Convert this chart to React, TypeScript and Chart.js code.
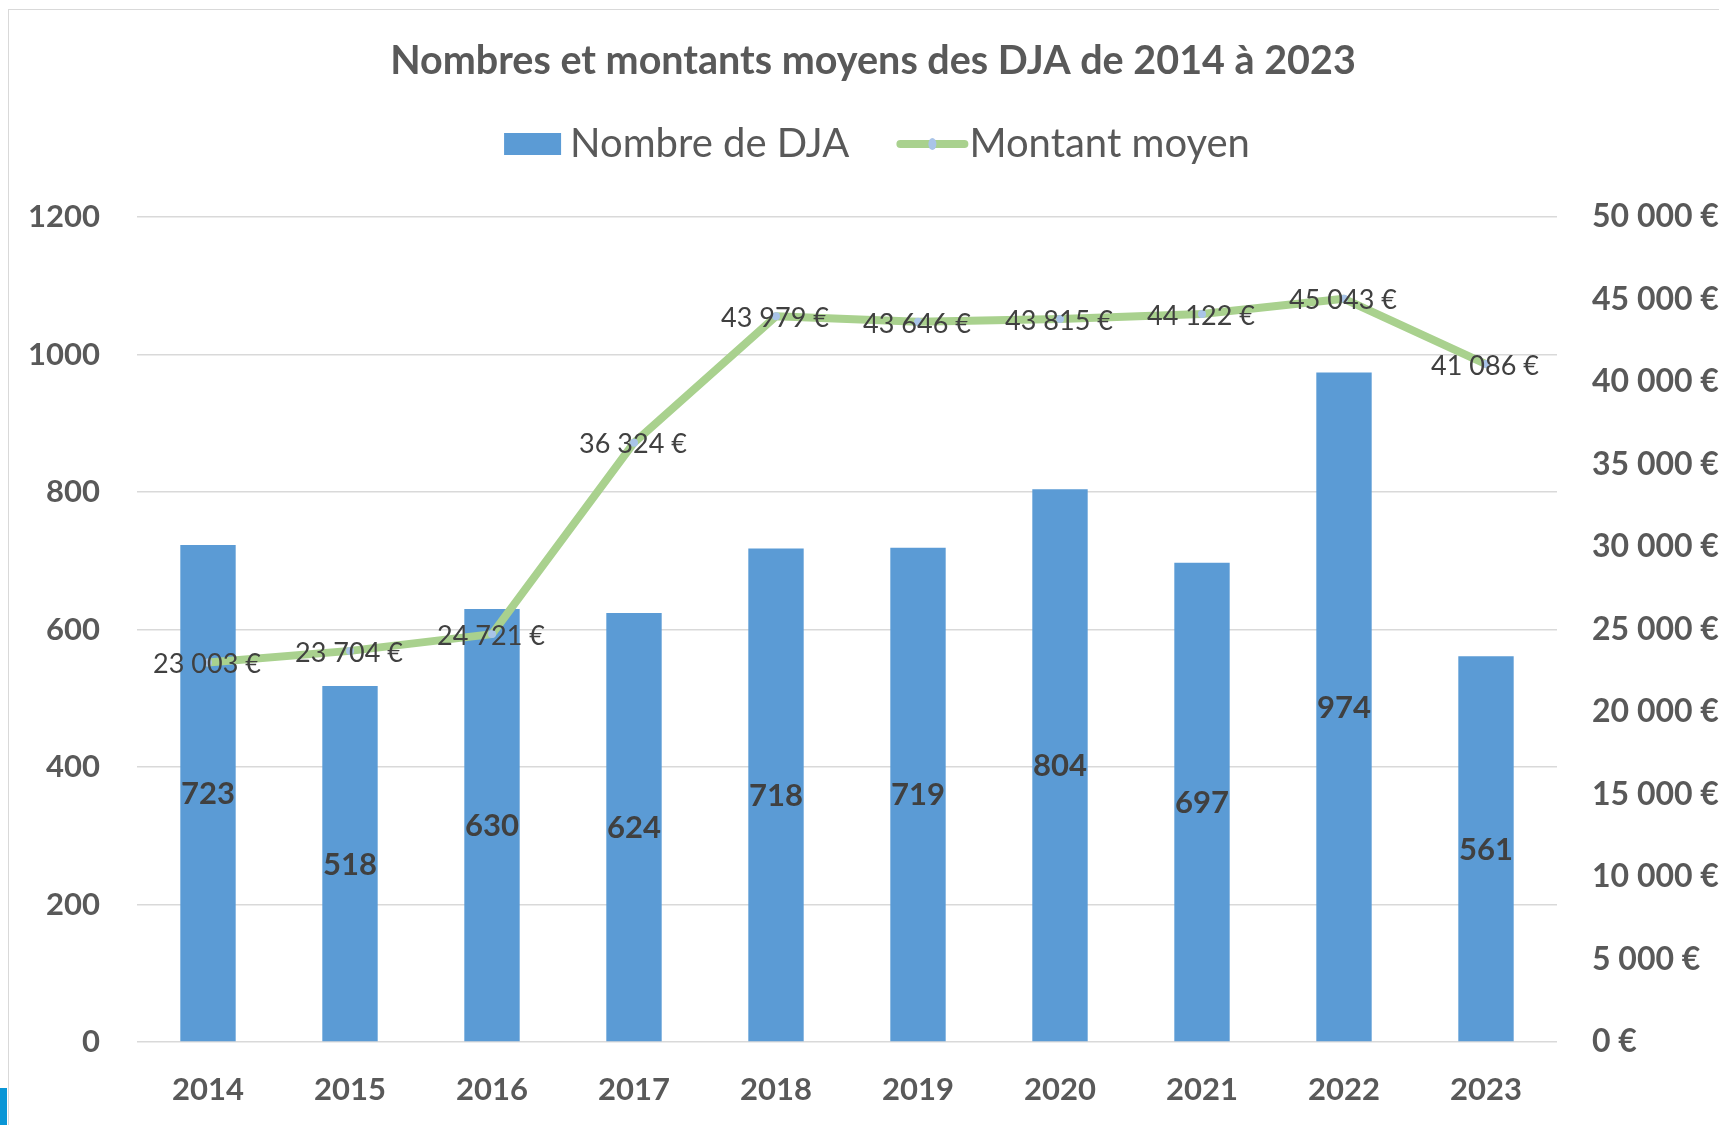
import React, { useEffect, useRef } from "react";
import { Chart, registerables } from "chart.js";

Chart.register(...registerables);

// ---- Data ----
const years = ["2014", "2015", "2016", "2017", "2018", "2019", "2020", "2021", "2022", "2023"];
const nombreDJA = [723, 518, 630, 624, 718, 719, 804, 697, 974, 561];
const montantMoyen = [23003, 23704, 24721, 36324, 43979, 43646, 43815, 44122, 45043, 41086];
const seriesNames = ["Nombre de DJA", "Montant moyen"];
const titleText = "Nombres et montants moyens des DJA de 2014 à 2023";
const leftAxisMax = 1200;
const leftAxisStep = 200;
const rightAxisMax = 50000;
const rightAxisStep = 5000;

// ---- Styles ----
const BAR_COLOR = "#5b9bd5";
const LINE_COLOR = "#a9d18e";
const MARKER_COLOR = "#a9c4e8";
const TEXT_COLOR = "#595959";
const LABEL_COLOR = "#404040";
const GRID_COLOR = "#d9d9d9";
const FONT = "Lato";

const CANVAS_W = 1728;
const CANVAS_H = 1115;

function groupDigits(n: number): string {
  return String(Math.round(n)).replace(/\B(?=(\d{3})+(?!\d))/g, " ");
}

const dataLabelsPlugin = {
  id: "dataLabels",
  afterDatasetsDraw(chart: any) {
    const ctx = chart.ctx as CanvasRenderingContext2D;
    ctx.save();
    ctx.textAlign = "center";
    ctx.textBaseline = "middle";
    ctx.fillStyle = LABEL_COLOR;

    const barMeta = chart.getDatasetMeta(0);
    ctx.font = `bold 31px ${FONT}`;
    barMeta.data.forEach((el: any, i: number) => {
      const p = el.getProps(["x", "y", "base"], true);
      ctx.fillText(String(nombreDJA[i]), p.x, (p.y + p.base) / 2 + 1);
    });

    const lineMeta = chart.getDatasetMeta(1);
    ctx.font = `27px ${FONT}`;
    lineMeta.data.forEach((el: any, i: number) => {
      const p = el.getProps(["x", "y"], true);
      ctx.fillText(groupDigits(montantMoyen[i]) + " €", p.x - 1, p.y + 2);
    });
    ctx.restore();
  },
};

const legendPlugin = {
  id: "customLegend",
  afterDraw(chart: any) {
    const ctx = chart.ctx as CanvasRenderingContext2D;
    ctx.save();
    ctx.font = `40px ${FONT}`;
    ctx.textBaseline = "middle";
    ctx.textAlign = "left";
    const w1 = ctx.measureText(seriesNames[0]).width;
    const w2 = ctx.measureText(seriesNames[1]).width;
    const boxW = 57;
    const boxH = 22;
    const gapText1 = 9;
    const gapItems = 47;
    const lineW = 72;
    const gapText2 = 1;
    const total = boxW + gapText1 + w1 + gapItems + lineW + gapText2 + w2;
    const cy = 133;
    let x = chart.width / 2 + 4 - total / 2;

    ctx.fillStyle = BAR_COLOR;
    ctx.fillRect(x, cy - boxH / 2 + 1, boxW, boxH);
    x += boxW + gapText1;
    ctx.fillStyle = TEXT_COLOR;
    ctx.fillText(seriesNames[0], x, cy + 1);
    x += w1 + gapItems;

    ctx.strokeStyle = LINE_COLOR;
    ctx.lineWidth = 8;
    ctx.lineCap = "round";
    ctx.beginPath();
    ctx.moveTo(x + 4, cy + 1);
    ctx.lineTo(x + lineW - 4, cy + 1);
    ctx.stroke();
    ctx.fillStyle = MARKER_COLOR;
    ctx.beginPath();
    ctx.ellipse(x + lineW / 2, cy + 1, 4, 6, 0, 0, Math.PI * 2);
    ctx.fill();
    x += lineW + gapText2;
    ctx.fillStyle = TEXT_COLOR;
    ctx.fillText(seriesNames[1], x, cy + 1);
    ctx.restore();
  },
};

export default function App() {
  const canvasRef = useRef<HTMLCanvasElement | null>(null);

  useEffect(() => {
    if (!canvasRef.current) return;
    const chart = new Chart(canvasRef.current, {
      type: "bar",
      data: {
        labels: years,
        datasets: [
          {
            type: "bar",
            label: seriesNames[0],
            data: nombreDJA,
            backgroundColor: BAR_COLOR,
            borderWidth: 0,
            barPercentage: 0.39,
            categoryPercentage: 1,
            yAxisID: "y",
            order: 1,
          },
          {
            type: "line",
            label: seriesNames[1],
            data: montantMoyen,
            borderColor: LINE_COLOR,
            backgroundColor: LINE_COLOR,
            borderWidth: 8,
            borderJoinStyle: "round",
            borderCapStyle: "round",
            pointRadius: 4,
            pointBackgroundColor: MARKER_COLOR,
            pointBorderWidth: 0,
            tension: 0,
            yAxisID: "y1",
            order: 0,
          },
        ] as any,
      },
      options: {
        responsive: false,
        animation: false,
        devicePixelRatio: 1,
        layout: { padding: { top: 0, left: 0, right: 0, bottom: 0 } },
        plugins: {
          legend: { display: false },
          tooltip: { enabled: false },
          title: {
            display: true,
            text: titleText,
            color: TEXT_COLOR,
            font: { family: FONT, size: 39.5, weight: "bold", lineHeight: 1.2 },
            padding: { top: 28, bottom: 131.6 },
          },
        },
        scales: {
          x: {
            grid: { display: false, drawTicks: false },
            border: { display: false },
            ticks: {
              color: TEXT_COLOR,
              font: { family: FONT, size: 31, weight: "bold", lineHeight: 1.2 },
              padding: 29,
              maxRotation: 0,
              autoSkip: false,
            },
            afterFit: (scale: any) => {
              scale.height = 83;
            },
          },
          y: {
            position: "left",
            min: 0,
            max: leftAxisMax,
            grid: { color: GRID_COLOR, lineWidth: 1.5, drawTicks: false },
            border: { display: false },
            ticks: {
              stepSize: leftAxisStep,
              color: TEXT_COLOR,
              font: { family: FONT, size: 31, weight: "bold" },
              padding: 37,
              callback: (v: any) => String(v),
            },
            afterFit: (scale: any) => {
              scale.width = 128;
            },
          },
          y1: {
            position: "right",
            min: 0,
            max: rightAxisMax,
            grid: { display: false, drawTicks: false },
            border: { display: false },
            ticks: {
              stepSize: rightAxisStep,
              color: TEXT_COLOR,
              font: { family: FONT, size: 32, weight: "bold" },
              padding: 35,
              callback: (v: any) => groupDigits(Number(v)) + " €",
            },
            afterFit: (scale: any) => {
              scale.width = 180;
            },
          },
        },
      } as any,
      plugins: [dataLabelsPlugin, legendPlugin],
    });
    return () => chart.destroy();
  }, []);

  return (
    <div
      style={{
        position: "fixed",
        left: 0,
        top: 0,
        width: 1719,
        height: 1125,
        overflow: "hidden",
        background: "#ffffff",
      }}
    >
      <div
        style={{
          position: "absolute",
          left: 8,
          top: 9,
          width: CANVAS_W,
          height: CANVAS_H + 20,
          border: "1px solid #d9d9d9",
          background: "#ffffff",
        }}
      >
        <canvas
          ref={canvasRef}
          width={CANVAS_W}
          height={CANVAS_H}
          style={{ display: "block", width: CANVAS_W, height: CANVAS_H }}
        />
      </div>
      <div
        style={{
          position: "absolute",
          left: 0,
          top: 1088,
          width: 7,
          height: 37,
          background: "#0a96d6",
        }}
      />
    </div>
  );
}
